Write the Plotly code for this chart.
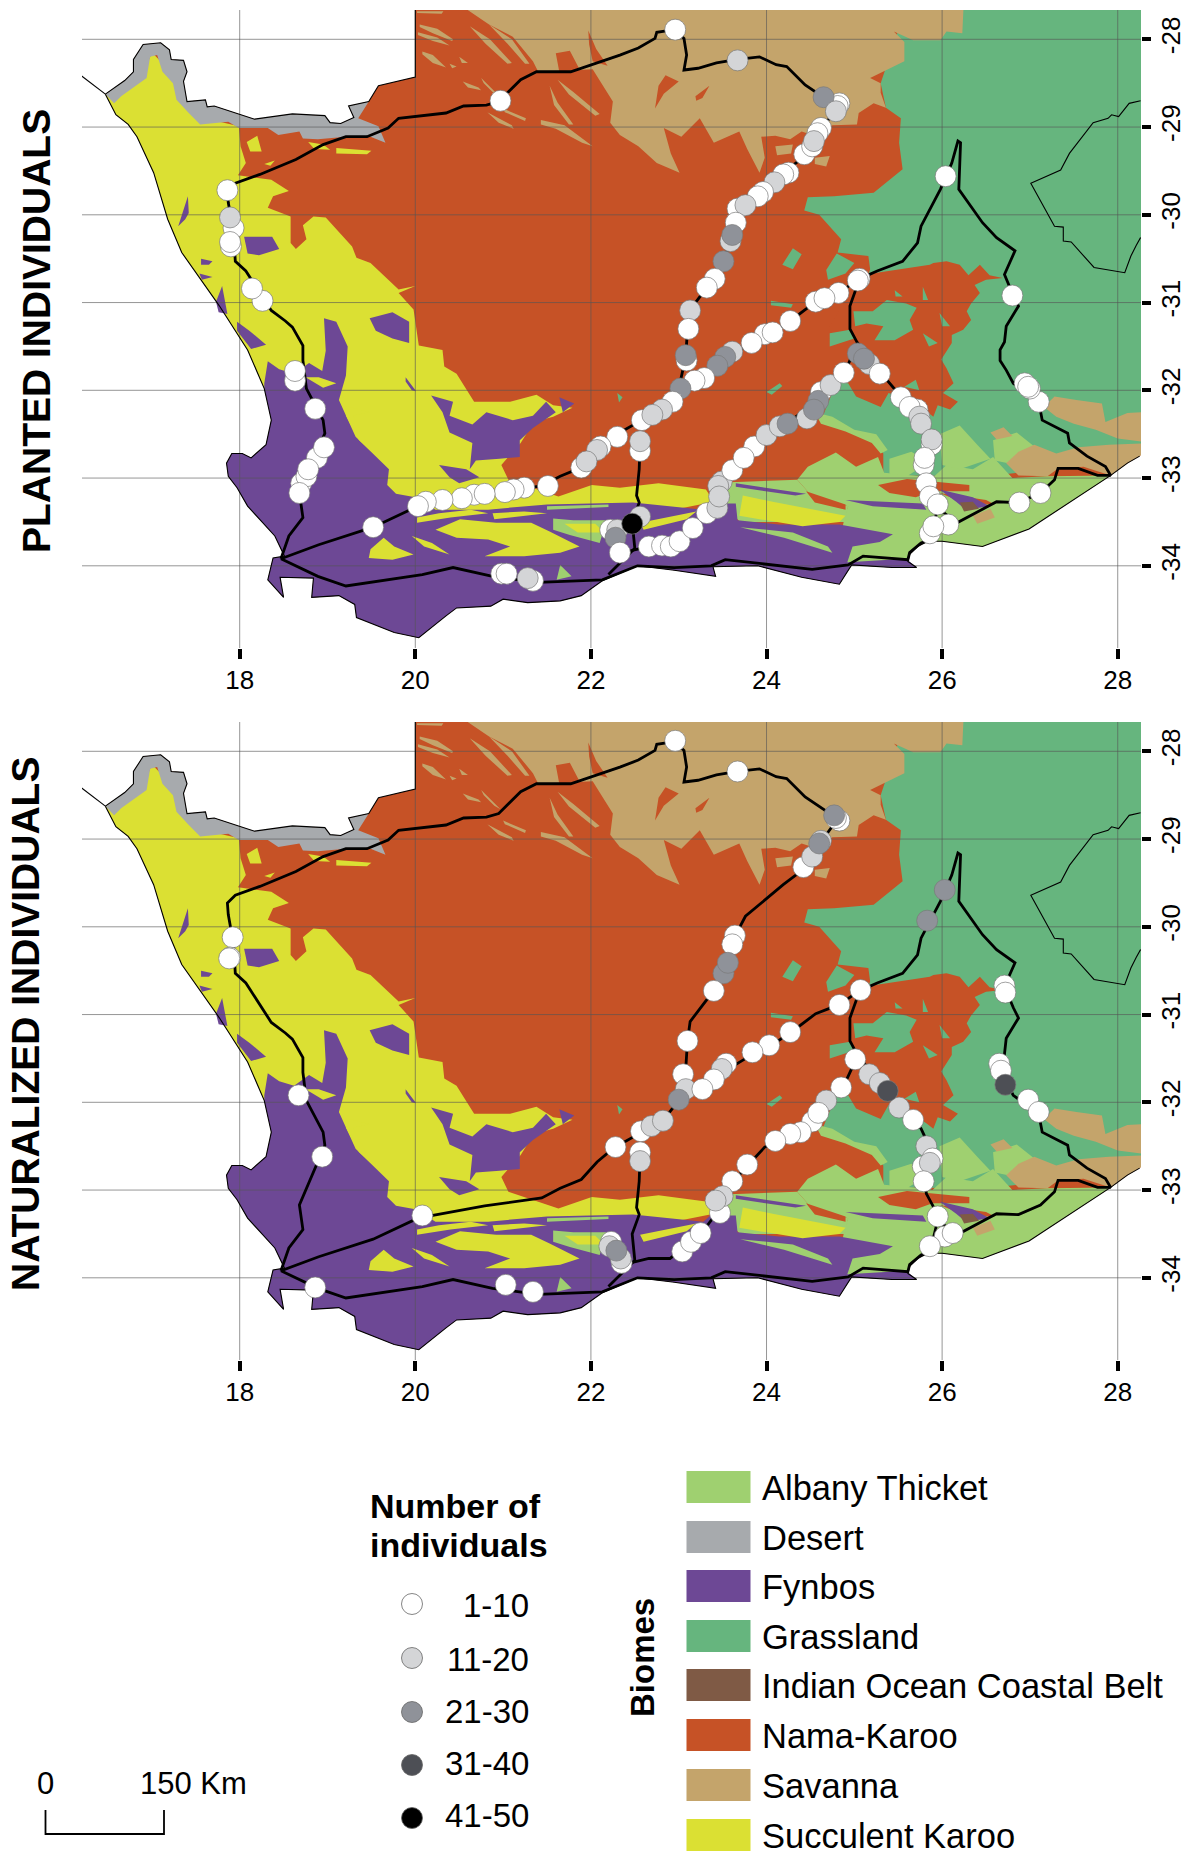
import plotly.graph_objects as go

W, H = 1188, 1854

# ---- colours
C_ALBANY, C_DESERT, C_FYNBOS, C_GRASS = "#9fd070", "#a7aaad", "#6d4895", "#66b57e"
C_IOCB, C_NAMA, C_SAVANNA, C_SUCC = "#7f5a45", "#c65226", "#c4a46b", "#dbe033"
CLASS_COLORS = {1: "#ffffff", 2: "#d4d5d7", 3: "#8f9299", 4: "#4d4f55", 5: "#000000"}

BIOME_LABELS = ["Albany Thicket", "Desert", "Fynbos", "Grassland",
                "Indian Ocean Coastal Belt", "Nama-Karoo", "Savanna", "Succulent Karoo"]
BIOME_COLORS = [C_ALBANY, C_DESERT, C_FYNBOS, C_GRASS, C_IOCB, C_NAMA, C_SAVANNA, C_SUCC]
CLASS_LABELS = ["1-10", "11-20", "21-30", "31-40", "41-50"]
LON_TICKS = [18, 20, 22, 24, 26, 28]
LAT_TICKS = [-28, -29, -30, -31, -32, -33, -34]

# ---- outlines (lon, lat)
NAMIBIA = [(16.19, -28.41), (16.47, -28.625)]
NORTH_BORDER = [(16.47, -28.625), (16.69, -28.47), (16.79, -28.37), (16.79, -28.23), (16.90, -28.06),
                (17.10, -28.04), (17.20, -28.12), (17.22, -28.23), (17.36, -28.24), (17.40, -28.37),
                (17.36, -28.48), (17.40, -28.71), (17.61, -28.69), (17.63, -28.77), (17.71, -28.76),
                (18.17, -28.91), (18.60, -28.85), (18.97, -28.87), (19.03, -28.95), (19.15, -28.96),
                (19.30, -28.89), (19.24, -28.76), (19.47, -28.71), (19.58, -28.53), (20.00, -28.43),
                (20.00, -27.5)]
COAST_SE = [(28.4, -32.63), (28.25, -32.75), (28.11, -32.83), (27.92, -32.97), (26.99, -33.58),
            (26.46, -33.78), (26.00, -33.72), (25.84, -33.72), (25.72, -33.78), (25.63, -33.87),
            (25.61, -33.95), (25.71, -34.02)]
COAST_S = [(25.43, -34.02), (24.97, -33.99), (24.83, -34.21), (24.40, -34.13), (23.90, -34.00),
           (23.39, -34.01), (23.42, -34.12), (22.95, -34.05), (22.53, -34.00), (22.13, -34.17),
           (21.89, -34.34), (21.65, -34.40), (21.28, -34.42), (21.00, -34.38), (20.86, -34.46),
           (20.47, -34.48), (20.35, -34.57), (20.04, -34.82), (19.76, -34.76), (19.33, -34.59),
           (19.31, -34.44), (19.13, -34.34), (18.82, -34.36), (18.84, -34.14), (18.46, -34.13),
           (18.50, -34.36), (18.32, -34.16), (18.38, -33.91), (18.51, -33.89), (18.40, -33.66),
           (18.09, -33.32), (17.97, -33.11), (17.87, -32.98), (17.85, -32.83), (17.91, -32.72),
           (18.03, -32.72), (18.13, -32.77), (18.30, -32.62), (18.36, -32.34), (18.28, -31.98)]
COAST_W = [(18.09, -31.54), (17.77, -31.04), (17.34, -30.43), (17.18, -30.05), (17.02, -29.52),
           (16.83, -29.11), (16.73, -28.97), (16.59, -28.86), (16.47, -28.625)]
LESOTHO_LINE = [(28.26, -28.70), (28.13, -28.73), (28.01, -28.88), (27.93, -28.86), (27.89, -28.90),
                (27.72, -28.95), (27.45, -29.30), (27.35, -29.49), (27.01, -29.64), (27.28, -30.13),
                (27.38, -30.14), (27.38, -30.30), (27.47, -30.31), (27.73, -30.60), (28.08, -30.66),
                (28.15, -30.47), (28.21, -30.35), (28.26, -30.26)]

# ---- biome patches (lon, lat)
GRASS_MAIN = [(26.25, -27.5), (28.4, -27.5), (28.4, -32.70), (27.69, -32.85), (26.5, -32.98), (25.33, -32.97),
              (25.33, -32.72), (25.21, -32.57), (24.62, -32.35), (24.80, -31.9), (24.95, -31.3), (25.18, -30.62),
              (25.16, -30.47), (24.81, -30.43), (24.85, -30.28), (24.60, -30.0), (24.43, -29.95), (24.47, -29.80),
              (24.77, -29.79), (25.22, -29.75), (25.55, -29.48), (25.51, -29.18), (25.53, -28.90), (25.36, -28.78),
              (25.3, -28.5), (25.5, -27.9)]
NAMA_EAST = [(25.20, -30.67), (25.48, -30.63), (25.63, -30.61), (25.86, -30.57), (25.90, -30.55), (26.05, -30.53),
             (26.20, -30.57), (26.30, -30.69), (26.43, -30.57), (26.54, -30.69), (26.69, -30.72), (26.50, -30.74),
             (26.37, -30.80), (26.43, -30.89), (26.33, -31.01), (26.28, -31.10), (26.33, -31.20), (26.24, -31.31),
             (26.11, -31.37), (26.11, -31.46), (25.99, -31.65), (26.05, -31.75), (26.13, -31.92), (26.01, -32.03),
             (26.18, -32.13), (26.09, -32.22), (25.95, -32.17), (25.90, -32.30), (25.82, -32.24), (25.63, -32.11),
             (25.39, -32.03), (25.30, -32.19), (25.02, -32.07), (24.93, -31.92), (24.70, -31.9), (24.7, -31.3),
             (24.95, -30.9)]
GRASS_SPECKS = [
    [(24.18, -30.57), (24.3, -30.38), (24.4, -30.45), (24.3, -30.62)],
    [(24.68, -30.63), (24.8, -30.44), (25.0, -30.55), (24.9, -30.67), (24.7, -30.74)],
    [(25.37, -30.97), (25.59, -31.01), (25.71, -31.06), (25.63, -31.20), (25.67, -31.31), (25.46, -31.43), (25.23, -31.43),
     (25.33, -31.27), (25.14, -31.24), (25.01, -31.27), (24.99, -31.10), (25.21, -31.10)],
    [(24.72, -31.35), (24.95, -31.31), (25.0, -31.41), (24.72, -31.50)],
    [(25.7, -31.88), (25.74, -32.0), (25.57, -31.96)],
    [(25.97, -31.12), (26.09, -31.27), (26.0, -31.27)],
    [(25.78, -31.35), (25.95, -31.46), (25.85, -31.5)],
    [(25.46, -30.86), (25.55, -30.93), (25.47, -30.93)],
    [(25.78, -30.82), (25.84, -30.97), (25.78, -30.97)],
    [(24.05, -30.98), (24.30, -31.02), (24.28, -31.06), (24.05, -31.03)],
    [(24.02, -31.30), (24.15, -31.28), (24.12, -31.38)],
    [(24.0, -32.02), (24.15, -31.92), (24.18, -31.95), (24.06, -32.05)],
    [(22.30, -32.03), (22.36, -32.08), (22.32, -32.14)],
]
SAVANNA_MAIN = [(20.35, -27.5), (26.25, -27.5), (26.23, -27.93), (26.05, -27.91), (25.98, -28.01), (25.67, -28.01),
                (25.45, -27.91), (25.57, -28.03), (25.57, -28.25), (25.18, -28.44), (25.30, -28.50), (25.30, -28.61),
                (25.36, -28.78), (25.22, -28.73), (25.05, -28.84), (25.03, -28.97), (24.75, -28.98), (24.55, -29.1),
                (24.40, -29.05), (24.27, -29.14), (24.1, -29.1), (23.94, -29.11), (23.98, -29.35), (23.92, -29.52),
                (23.78, -29.25), (23.69, -29.05), (23.40, -29.18), (23.24, -28.90), (23.03, -29.11), (22.83, -29.01),
                (22.91, -29.30), (23.01, -29.52), (22.75, -29.41), (22.54, -29.22), (22.33, -29.09), (22.22, -28.95),
                (22.25, -28.71), (22.02, -28.34), (21.40, -28.37), (21.34, -28.25), (21.11, -27.97), (20.84, -27.83)]
SAVANNA_STREAKS = [
    [(20.05, -27.83), (20.25, -27.88), (20.43, -28.0), (20.42, -28.02), (20.2, -27.93), (20.05, -27.86)],
    [(20.03, -27.92), (20.25, -27.98), (20.39, -28.07), (20.2, -28.02), (20.03, -27.95)],
    [(20.08, -28.14), (20.2, -28.18), (20.35, -28.32), (20.2, -28.27), (20.08, -28.17)],
    [(20.39, -28.28), (20.47, -28.31), (20.42, -28.33)],
    [(20.5, -28.2), (20.6, -28.27), (20.53, -28.27)],
    [(20.54, -28.48), (20.72, -28.55), (20.75, -28.58), (20.6, -28.55)],
    [(20.75, -28.44), (20.97, -28.66), (20.9, -28.62), (20.78, -28.5)],
    [(20.82, -28.83), (21.1, -28.98), (21.12, -29.02), (20.95, -28.95)],
    [(21.0, -28.79), (21.26, -28.9), (21.25, -28.93), (21.02, -28.83)],
    [(21.53, -28.53), (21.62, -28.72), (21.8, -28.97), (21.75, -28.97), (21.58, -28.75)],
    [(21.62, -28.46), (21.8, -28.6), (22.1, -28.85), (22.05, -28.87), (21.75, -28.63)],
    [(21.43, -28.92), (21.7, -28.98), (22.02, -29.22), (21.9, -29.18), (21.6, -29.02), (21.43, -28.97)],
    [(20.62, -27.85), (20.85, -28.0), (21.1, -28.27), (21.05, -28.28), (20.8, -28.05)],
    [(20.84, -27.83), (21.1, -28.0), (21.3, -28.28), (21.25, -28.28), (21.05, -28.05)],
    [(20.02, -27.68), (20.32, -27.68), (20.3, -27.71), (20.02, -27.70)],
    [(24.55, -29.35), (24.72, -29.33), (24.68, -29.45), (24.55, -29.42)],
    [(24.1, -29.22), (24.3, -29.2), (24.28, -29.3), (24.12, -29.32)],
]
NAMA_IN_SAVANNA = [
    [(21.97, -27.90), (22.06, -28.11), (22.19, -28.30), (22.02, -28.25), (21.98, -28.06)],
    [(21.60, -28.16), (21.76, -28.13), (21.87, -28.34), (21.64, -28.37)],
    [(22.85, -28.41), (23.0, -28.48), (22.83, -28.62), (22.73, -28.79), (22.77, -28.53)],
    [(23.19, -28.65), (23.35, -28.53), (23.27, -28.67), (23.2, -28.7)],
]
ALBANY_MAIN = [(24.35, -33.02), (24.47, -32.87), (24.79, -32.71), (25.02, -32.87), (25.27, -32.76), (25.34, -32.94),
               (25.67, -32.97), (25.89, -33.0), (26.05, -32.85), (26.35, -32.9), (26.58, -32.76), (26.8, -33.0),
               (27.2, -32.98), (27.92, -32.97), (26.99, -33.58), (26.46, -33.78), (26.00, -33.72), (25.84, -33.72),
               (25.72, -33.78), (25.63, -33.87), (25.61, -33.95), (25.71, -34.02), (25.43, -34.02), (24.97, -33.99),
               (24.83, -34.21), (24.80, -33.9), (24.89, -33.44), (24.93, -33.32), (24.52, -33.21)]
ALBANY_OTHER = [
    [(23.5, -33.05), (24.35, -33.02), (24.52, -33.21), (24.93, -33.32), (24.89, -33.5), (23.7, -33.5), (23.5, -33.3)],
    [(24.55, -32.25), (24.75, -32.3), (25.0, -32.45), (25.25, -32.5), (25.38, -32.68), (25.3, -32.72),
     (25.2, -32.6), (24.9, -32.47), (24.62, -32.38)],
    [(25.97, -32.5), (26.2, -32.4), (26.4, -32.62), (26.55, -32.78), (26.2, -32.9), (26.0, -32.85)],
    [(26.58, -32.57), (26.85, -32.48), (27.1, -32.68), (26.85, -32.85), (26.6, -32.8)],
    [(25.4, -32.78), (25.65, -32.7), (25.85, -32.82), (25.6, -32.98), (25.4, -32.95)],
]
NAMA_ON_ALBANY = [
    [(25.27, -33.08), (25.6, -33.01), (26.31, -33.08), (26.31, -33.15), (25.89, -33.15), (25.7, -33.22), (25.4, -33.17)],
    [(24.45, -33.15), (24.9, -33.3), (24.9, -33.36), (24.55, -33.28)],
    [(25.97, -33.17), (26.5, -33.25), (26.6, -33.3), (26.3, -33.3)],
]
SAVANNA_SE = [
    [(27.16, -32.19), (27.28, -32.07), (27.53, -32.11), (27.82, -32.15), (27.86, -32.36), (28.11, -32.26), (28.4, -32.24),
     (28.4, -32.6), (28.0, -32.55), (27.75, -32.45), (27.5, -32.38), (27.3, -32.3)],
    [(26.73, -32.83), (26.87, -32.70), (27.05, -32.62), (27.30, -32.72), (27.55, -32.65), (27.9, -32.62), (28.4, -32.6),
     (28.4, -32.63), (28.25, -32.75), (28.11, -32.83), (27.92, -32.97), (27.61, -32.87), (27.32, -32.89), (27.20, -32.98),
     (26.87, -32.97)],
    [(26.55, -32.48), (26.7, -32.42), (26.8, -32.52), (26.62, -32.56)],
    [(26.35, -33.43), (26.55, -33.35), (26.6, -33.45), (26.4, -33.52)],
]
SUCC_WEST = [(16.47, -28.625), (16.9, -28.4), (17.0, -28.15), (17.15, -28.3), (17.3, -28.5), (17.45, -28.8), (17.6, -28.9),
             (17.99, -28.99), (18.01, -29.22),
             (18.07, -29.41), (17.98, -29.55), (18.36, -29.60), (18.56, -29.73), (18.38, -29.79), (18.32, -29.92),
             (18.58, -30.02), (18.58, -30.32), (18.64, -30.39), (18.76, -30.28), (18.72, -30.12), (18.84, -30.02),
             (18.98, -30.03), (19.28, -30.36), (19.33, -30.49), (19.49, -30.55), (19.81, -30.85), (20.0, -30.81),
             (19.81, -30.89), (19.98, -31.08), (20.04, -31.49), (20.31, -31.54), (20.33, -31.73), (20.47, -31.81),
             (20.59, -32.0), (20.67, -32.13), (21.08, -32.13), (21.38, -32.05), (21.57, -32.17), (21.79, -32.2),
             (21.57, -32.30), (21.35, -32.36), (21.2, -32.6), (20.98, -32.85), (21.06, -33.02), (21.63, -33.21),
             (22.01, -33.08), (22.33, -33.11), (22.77, -33.06), (23.31, -33.13), (23.4, -33.27), (23.0, -33.35),
             (22.4, -33.4), (21.5, -33.4), (20.0, -33.45), (19.6, -33.2), (18.5, -32.0), (18.28, -31.98),
             (18.09, -31.54), (17.77, -31.04), (17.34, -30.43), (17.18, -30.05), (17.02, -29.52), (16.83, -29.11),
             (16.73, -28.97), (16.59, -28.86)]
YELLOW_IN_NAMA = [
    [(18.08, -29.17), (18.2, -29.1), (18.25, -29.28), (18.12, -29.28)],
    [(18.78, -29.17), (18.95, -29.2), (19.03, -29.26), (18.85, -29.25)],
    [(19.1, -29.24), (19.5, -29.27), (19.45, -29.31), (19.1, -29.3)],
    [(18.28, -29.42), (18.4, -29.38), (18.35, -29.44)],
]
DESERT_RING = NORTH_BORDER[:23] + [(19.35, -28.90), (19.58, -28.99), (19.66, -29.18), (19.49, -29.11), (19.21, -29.11),
                                   (18.89, -29.14), (18.72, -29.13), (18.68, -29.05), (18.44, -29.09), (18.32, -29.01),
                                   (17.99, -29.01), (17.87, -28.94), (17.55, -28.97), (17.42, -28.84), (17.28, -28.69),
                                   (17.24, -28.50), (17.12, -28.37), (17.06, -28.18), (16.98, -28.20), (16.94, -28.44),
                                   (16.77, -28.56), (16.65, -28.65), (16.57, -28.73)]
FYNBOS_NORTH = [(18.28, -31.92), (18.32, -31.67), (18.45, -31.76), (18.62, -31.81), (18.79, -31.69), (18.94, -31.78),
                (18.98, -31.55), (18.96, -31.18), (19.10, -31.22), (19.23, -31.50), (19.21, -31.83), (19.13, -32.11),
                (19.32, -32.53), (19.51, -32.71), (19.70, -32.90), (19.68, -33.08), (19.78, -33.18), (20.0, -33.22),
                (20.23, -33.36), (20.83, -33.36), (21.5, -33.30), (22.48, -33.28), (23.28, -33.36), (23.36, -33.29),
                (23.65, -33.29), (23.67, -33.48), (24.14, -33.53), (24.83, -33.53), (25.44, -33.64), (25.29, -33.73),
                (24.98, -33.78), (24.92, -33.96), (25.59, -33.92), (25.71, -34.02)]
FYNBOS_SPECKS = [
    [(17.30, -30.13), (17.41, -29.79), (17.42, -29.98), (17.38, -30.05)],
    [(18.05, -30.25), (18.37, -30.25), (18.45, -30.39), (18.22, -30.46), (18.09, -30.44)],
    [(17.56, -30.50), (17.69, -30.53), (17.65, -30.57), (17.56, -30.57)],
    [(17.54, -30.67), (17.69, -30.71), (17.57, -30.74)],
    [(17.80, -30.81), (17.73, -30.99), (17.76, -31.11), (17.86, -31.13)],
    [(17.97, -31.22), (18.11, -31.32), (18.30, -31.48), (18.13, -31.53), (17.97, -31.32)],
    [(19.48, -31.18), (19.74, -31.11), (19.93, -31.22), (19.93, -31.46), (19.74, -31.41), (19.55, -31.32)],
    [(19.89, -31.85), (20.01, -32.01), (19.96, -32.0), (19.89, -31.9)],
    [(20.18, -32.06), (20.43, -32.13), (20.39, -32.29), (20.65, -32.39), (20.81, -32.25), (21.11, -32.34), (21.34, -32.29),
     (21.49, -32.13), (21.60, -32.25), (21.34, -32.43), (21.19, -32.57), (21.19, -32.76), (20.96, -32.78), (20.69, -32.80),
     (20.62, -32.90), (20.65, -32.60), (20.39, -32.48), (20.31, -32.25)],
    [(20.27, -32.85), (20.58, -32.90), (20.73, -32.99), (20.50, -33.06), (20.39, -32.99)],
    [(21.64, -32.08), (21.81, -32.15), (21.68, -32.25)],
    [(23.65, -33.06), (24.45, -33.18), (24.33, -33.20), (23.65, -33.10)],
    [(24.90, -33.25), (25.78, -33.29), (25.82, -33.36), (25.21, -33.32)],
    [(25.97, -33.13), (26.35, -33.22), (26.54, -33.32), (26.27, -33.36), (26.16, -33.27)],
]
YELLOW_PATCHES = [
    [(20.23, -33.59), (20.51, -33.47), (20.92, -33.51), (21.32, -33.51), (21.53, -33.61), (21.87, -33.78), (21.65, -33.85),
     (21.24, -33.89), (20.79, -33.89), (21.08, -33.78), (20.83, -33.70), (20.47, -33.68)],
    [(20.02, -33.45), (20.27, -33.40), (20.63, -33.36), (20.83, -33.40), (20.4, -33.45), (20.02, -33.51)],
    [(20.88, -33.40), (21.24, -33.38), (21.5, -33.40), (20.9, -33.47)],
    [(19.49, -33.81), (19.64, -33.68), (19.76, -33.78), (19.98, -33.87), (19.74, -33.93), (19.47, -33.91)],
    [(19.96, -33.66), (20.19, -33.74), (20.39, -33.87), (20.10, -33.78)],
    [(18.75, -31.85), (18.9, -31.85), (19.1, -31.92), (18.95, -31.97)],
    [(19.21, -32.18), (19.48, -32.25), (19.29, -32.29), (19.51, -32.71), (19.36, -32.57), (19.21, -32.29)],
    [(23.73, -33.2), (24.07, -33.27), (24.9, -33.43), (24.83, -33.5), (24.41, -33.55), (23.69, -33.43)],
    [(22.56, -33.51), (23.2, -33.38), (23.09, -33.47), (22.60, -33.59)],
]
ALBANY_CENTER = [
    [(21.57, -33.46), (21.80, -33.48), (22.18, -33.48), (22.10, -33.74), (21.76, -33.65), (21.57, -33.59)],
    [(21.65, -33.99), (21.78, -34.12), (21.61, -34.16)],
    [(23.7, -33.56), (24.3, -33.62), (24.7, -33.78), (24.75, -33.85), (24.2, -33.68)],
    [(21.5, -33.32), (22.2, -33.30), (22.2, -33.33), (21.5, -33.36)],
]
YELLOW_CENTER = [[(21.70, -33.52), (22.05, -33.52), (22.15, -33.62), (21.85, -33.62)]]
IOCB_PATCHES = [[(26.2, -33.28), (26.35, -33.27), (26.42, -33.35), (26.25, -33.38)]]

# ---- roads (lon, lat)
ROAD_WEST_NORTH = [(18.47, -33.92), (18.56, -33.66), (18.72, -33.45), (18.68, -33.17), (18.97, -32.49), (18.95, -32.34),
                   (18.76, -31.98), (18.72, -31.66), (18.72, -31.49), (18.60, -31.28), (18.52, -31.21), (18.36, -31.09),
                   (18.07, -30.64), (17.95, -30.53), (17.93, -30.2), (17.87, -29.86), (17.86, -29.73), (17.95, -29.64),
                   (18.23, -29.54), (18.64, -29.37), (18.95, -29.2), (19.21, -29.11), (19.45, -29.11), (19.69, -29.01),
                   (19.81, -28.90), (20.35, -28.84), (20.55, -28.76), (20.81, -28.75), (20.95, -28.71), (21.2, -28.46),
                   (21.38, -28.37), (21.77, -28.37), (22.33, -28.18), (22.54, -28.10), (22.73, -27.99), (22.75, -27.92),
                   (22.95, -27.89), (23.06, -27.99), (23.09, -28.18), (23.06, -28.35), (23.22, -28.33), (23.43, -28.27),
                   (23.67, -28.23), (23.92, -28.20), (24.11, -28.29), (24.23, -28.31), (24.44, -28.52), (24.64, -28.65),
                   (24.81, -28.77), (24.68, -28.95), (24.56, -29.14), (24.44, -29.33), (24.19, -29.52), (23.94, -29.73),
                   (23.76, -29.88), (23.65, -30.09), (23.61, -30.24), (23.51, -30.53), (23.32, -30.83), (23.13, -31.08),
                   (23.10, -31.30), (23.08, -31.62), (23.0, -31.98)]
ROAD_DIAGONAL = [(25.06, -30.73), (24.82, -30.89), (24.56, -30.99), (24.27, -31.21), (24.07, -31.34), (23.83, -31.46),
                 (23.45, -31.69), (23.18, -31.88), (23.0, -31.98), (22.81, -32.22), (22.58, -32.34), (22.26, -32.52),
                 (22.07, -32.68), (21.89, -32.88), (21.65, -32.98), (21.44, -33.09), (20.79, -33.18), (20.03, -33.32),
                 (19.52, -33.56), (18.9, -33.76), (18.47, -33.92)]
ROAD_PRINCE = [(22.56, -32.6), (22.55, -32.9), (22.52, -33.2), (22.55, -33.28), (22.47, -33.5), (22.5, -33.8), (22.2, -34.1)]
ROAD_SOUTH = [(25.06, -30.73), (24.95, -31.04), (24.95, -31.3), (25.03, -31.45), (25.31, -31.81), (25.53, -32.07),
              (25.76, -32.30), (25.88, -32.56), (25.80, -32.79), (25.82, -33.04), (25.96, -33.30), (25.90, -33.55),
              (25.84, -33.71), (25.76, -33.74), (25.63, -33.85), (25.61, -33.93), (25.10, -33.89), (24.93, -33.99),
              (24.52, -34.04), (23.90, -33.97), (23.53, -33.93), (23.37, -34.0), (22.95, -34.02), (22.53, -34.0),
              (22.13, -34.16), (21.40, -34.19), (20.88, -34.12), (20.43, -34.02), (20.08, -34.10), (19.21, -34.23),
              (18.89, -34.12), (18.47, -33.92)]
ROAD_GARDEN = [(25.0, -31.55), (24.89, -31.79), (24.73, -31.95), (24.59, -32.11), (24.23, -32.38), (23.98, -32.51),
               (23.73, -32.78), (23.61, -32.92), (23.45, -33.11), (23.45, -33.24), (23.32, -33.41), (23.15, -33.58),
               (22.90, -33.78), (22.66, -33.78), (22.37, -33.85)]
ROAD_EAST = [(25.96, -33.35), (26.17, -33.51), (26.62, -33.27), (26.87, -33.28), (27.12, -33.17), (27.28, -33.02),
             (27.32, -32.89), (27.55, -32.89), (27.77, -32.97), (27.92, -32.97), (27.86, -32.87), (27.65, -32.75),
             (27.45, -32.60), (27.43, -32.49), (27.14, -32.34), (27.10, -32.13), (26.81, -31.92), (26.73, -31.77),
             (26.66, -31.66), (26.66, -31.54), (26.71, -31.45), (26.73, -31.27), (26.87, -31.04), (26.81, -30.92),
             (26.71, -30.68), (26.83, -30.41), (26.62, -30.26), (26.46, -30.09), (26.19, -29.71), (26.21, -29.18),
             (26.18, -29.16), (26.11, -29.41), (25.98, -29.71), (25.76, -30.13), (25.72, -30.32), (25.55, -30.53),
             (25.26, -30.64), (25.06, -30.73)]
ROADS = [ROAD_WEST_NORTH, ROAD_DIAGONAL, ROAD_PRINCE, ROAD_SOUTH, ROAD_GARDEN, ROAD_EAST]

# ---- sampled sites (lon, lat, class)
PLANTED = [
    (20.97, -28.70, 1), (17.86, -29.72, 1), (17.93, -30.15, 1), (17.89, -30.03, 2), (17.90, -30.36, 1), (17.89, -30.31, 1),
    (18.26, -30.98, 1), (18.14, -30.84, 1), (22.96, -27.89, 1), (23.67, -28.24, 2), (24.83, -28.73, 1), (24.81, -28.76, 1),
    (24.65, -28.66, 3), (24.79, -28.82, 2), (24.62, -29.01, 1), (24.58, -29.07, 1), (24.43, -29.31, 1), (24.52, -29.22, 1),
    (24.54, -29.16, 2), (24.25, -29.52, 1), (24.19, -29.54, 1), (24.09, -29.63, 2), (23.96, -29.74, 1), (23.90, -29.79, 1),
    (23.67, -29.93, 1), (23.76, -29.89, 2), (23.65, -30.09, 1), (23.59, -30.30, 2), (23.61, -30.23, 3), (23.51, -30.53, 3),
    (23.41, -30.73, 1), (23.32, -30.83, 1), (23.13, -31.09, 2), (23.11, -31.30, 1), (23.09, -31.66, 1), (23.08, -31.60, 3),
    (25.06, -30.73, 1), (25.04, -30.75, 1), (24.82, -30.89, 1), (24.56, -30.99, 1), (24.66, -30.95, 1), (24.27, -31.21, 1),
    (23.98, -31.36, 1), (24.07, -31.34, 1), (23.83, -31.46, 1), (23.61, -31.56, 2), (23.53, -31.62, 3), (23.44, -31.72, 3),
    (23.29, -31.86, 1), (23.18, -31.89, 1), (23.02, -31.98, 3), (22.93, -32.13, 1), (22.81, -32.22, 2), (22.58, -32.34, 1),
    (22.70, -32.28, 2), (22.30, -32.53, 1), (22.56, -32.69, 1), (22.56, -32.58, 2), (22.11, -32.64, 1), (22.07, -32.68, 2),
    (21.89, -32.88, 1), (21.95, -32.81, 2), (21.51, -33.09, 1), (21.24, -33.11, 1), (21.12, -33.13, 1), (21.02, -33.16, 1),
    (20.67, -33.19, 1), (20.79, -33.18, 1), (20.53, -33.23, 1), (20.31, -33.25, 1), (20.12, -33.27, 1), (20.03, -33.32, 1),
    (19.52, -33.56, 1), (18.63, -31.89, 1), (18.63, -31.78, 1), (18.86, -32.21, 1), (18.88, -32.77, 1), (18.96, -32.65, 1),
    (18.70, -33.06, 1), (18.76, -32.98, 1), (18.78, -32.90, 1), (18.68, -33.17, 1), (20.98, -34.09, 1), (21.04, -34.09, 1),
    (21.34, -34.17, 1), (21.28, -34.14, 2), (22.22, -33.59, 1), (22.30, -33.59, 2), (22.28, -33.68, 3), (22.33, -33.85, 1),
    (22.56, -33.44, 2), (22.47, -33.52, 5), (22.66, -33.78, 1), (22.81, -33.77, 1), (22.91, -33.78, 1), (23.01, -33.72, 1),
    (23.16, -33.57, 1), (23.32, -33.40, 1), (23.44, -33.34, 2), (23.49, -33.04, 2), (23.45, -33.09, 2), (23.46, -33.21, 2),
    (23.61, -32.91, 1), (23.86, -32.64, 1), (23.74, -32.77, 1), (24.0, -32.51, 2), (24.15, -32.41, 2), (24.46, -32.32, 2),
    (24.24, -32.38, 3), (24.62, -32.02, 1), (24.59, -32.12, 3), (24.54, -32.22, 3), (24.73, -31.94, 2), (24.88, -31.80, 1),
    (25.04, -31.58, 3), (25.17, -31.70, 2), (25.11, -31.64, 3), (25.29, -31.81, 1), (25.53, -32.08, 1), (25.72, -32.22, 1),
    (25.63, -32.19, 1), (25.74, -32.30, 2), (25.76, -32.38, 2), (25.88, -32.62, 1), (25.88, -32.56, 2), (25.79, -32.85, 1),
    (25.80, -32.77, 1), (25.82, -33.06, 1), (25.86, -33.21, 1), (25.95, -33.30, 1), (26.07, -33.53, 1), (25.86, -33.63, 1),
    (25.90, -33.55, 1), (26.88, -33.28, 1), (27.12, -33.17, 1), (27.10, -32.13, 1), (26.94, -31.92, 1), (27.0, -31.98, 1),
    (26.98, -31.96, 1), (26.80, -30.92, 1), (26.04, -29.56, 1),
]
NATURALIZED = [
    (17.92, -30.12, 1), (17.89, -30.35, 1), (17.88, -30.36, 1), (18.67, -31.92, 1), (18.94, -32.62, 1), (20.08, -33.29, 1),
    (18.86, -34.11, 1), (21.03, -34.08, 1), (21.34, -34.16, 1), (22.96, -27.88, 1), (23.67, -28.23, 1), (22.28, -32.51, 1),
    (22.57, -32.33, 1), (22.69, -32.27, 2), (22.82, -32.21, 2), (22.56, -32.57, 1), (22.56, -32.67, 2), (22.23, -33.59, 1),
    (22.35, -33.83, 1), (22.34, -33.78, 2), (22.21, -33.64, 2), (22.29, -33.69, 3), (24.83, -28.79, 1), (24.79, -28.76, 1),
    (24.77, -28.73, 3), (24.62, -29.02, 2), (24.42, -29.32, 1), (24.52, -29.20, 2), (24.60, -29.05, 3), (26.03, -29.58, 3),
    (25.83, -29.93, 3), (23.64, -30.10, 1), (23.61, -30.20, 1), (23.51, -30.53, 3), (23.56, -30.41, 3), (23.40, -30.73, 1),
    (23.10, -31.30, 1), (23.05, -31.68, 1), (23.08, -31.85, 2), (23.00, -31.97, 3), (25.07, -30.72, 1), (24.83, -30.89, 1),
    (24.27, -31.20, 1), (24.03, -31.35, 1), (23.84, -31.43, 1), (23.54, -31.56, 1), (23.49, -31.62, 2), (23.40, -31.74, 1),
    (23.27, -31.85, 1), (25.01, -31.51, 1), (25.17, -31.68, 2), (25.29, -31.78, 2), (25.51, -32.06, 2), (25.38, -31.87, 4),
    (25.67, -32.20, 1), (24.85, -31.83, 1), (24.68, -31.98, 2), (24.52, -32.22, 1), (24.59, -32.12, 1), (24.39, -32.34, 1),
    (24.27, -32.36, 1), (24.10, -32.44, 1), (23.78, -32.71, 1), (23.61, -32.90, 1), (23.47, -33.26, 1), (23.50, -33.07, 2),
    (23.42, -33.12, 2), (23.04, -33.70, 1), (23.14, -33.59, 1), (23.25, -33.49, 1), (25.82, -32.50, 2), (25.89, -32.64, 1),
    (25.78, -32.73, 1), (25.86, -32.69, 2), (25.79, -32.90, 1), (25.95, -33.30, 1), (26.03, -33.53, 1), (26.12, -33.49, 1),
    (25.86, -33.64, 1), (26.71, -30.67, 1), (26.72, -30.75, 1), (26.65, -31.56, 1), (26.67, -31.64, 1), (26.72, -31.80, 4),
    (26.98, -31.97, 1), (27.10, -32.11, 1),
]

# ---- frame geometry (page pixels)
AX_LEFT, AX_RIGHT = 82, 1141
PANELS = [(10, 648), (722, 1360)]
LON_RANGE = (16.204, 28.265)
LAT_SPAN = 87.75
LAT_TOP = -28 + 29.3 / LAT_SPAN
LAT_BOTTOM = -28 - (648 - 39.3) / LAT_SPAN


def rings(*groups):
    xs, ys = [], []
    for ring in groups:
        for lon, lat in ring:
            xs.append(lon); ys.append(lat)
        xs.append(None); ys.append(None)
    return xs, ys


def fill(fig, idx, color, groups):
    xs, ys = rings(*groups)
    fig.add_trace(go.Scatter(x=xs, y=ys, mode="lines", fill="toself", fillcolor=color,
                             line=dict(width=0, color=color), hoverinfo="skip", showlegend=False,
                             xaxis=f"x{idx}", yaxis=f"y{idx}"))


def lines(fig, idx, color, width, groups):
    xs, ys = rings(*groups)
    fig.add_trace(go.Scatter(x=xs, y=ys, mode="lines", line=dict(width=width, color=color),
                             hoverinfo="skip", showlegend=False, xaxis=f"x{idx}", yaxis=f"y{idx}"))


fig = go.Figure()
LAND = NORTH_BORDER + [(28.4, -27.5)] + COAST_SE + COAST_S + COAST_W
FYNBOS_MAIN = FYNBOS_NORTH + COAST_S
GRID_V = [[(t, LAT_TOP), (t, LAT_BOTTOM)] for t in LON_TICKS]
GRID_H = [[(LON_RANGE[0], t), (LON_RANGE[1], t)] for t in LAT_TICKS]

for idx, (panel, sites) in enumerate(zip(PANELS, [PLANTED, NATURALIZED]), start=1):
    fill(fig, idx, C_NAMA, [LAND])
    fill(fig, idx, C_GRASS, [GRASS_MAIN])
    fill(fig, idx, C_NAMA, [NAMA_EAST])
    fill(fig, idx, C_GRASS, GRASS_SPECKS)
    fill(fig, idx, C_SAVANNA, [SAVANNA_MAIN])
    fill(fig, idx, C_SAVANNA, SAVANNA_STREAKS)
    fill(fig, idx, C_NAMA, NAMA_IN_SAVANNA)
    fill(fig, idx, C_ALBANY, [ALBANY_MAIN])
    fill(fig, idx, C_ALBANY, ALBANY_OTHER)
    fill(fig, idx, C_NAMA, NAMA_ON_ALBANY)
    fill(fig, idx, C_SAVANNA, SAVANNA_SE)
    fill(fig, idx, C_SUCC, [SUCC_WEST])
    fill(fig, idx, C_SUCC, YELLOW_IN_NAMA)
    fill(fig, idx, C_DESERT, [DESERT_RING])
    fill(fig, idx, C_FYNBOS, [FYNBOS_MAIN])
    fill(fig, idx, C_FYNBOS, FYNBOS_SPECKS)
    fill(fig, idx, C_SUCC, YELLOW_PATCHES)
    fill(fig, idx, C_ALBANY, ALBANY_CENTER)
    fill(fig, idx, C_SUCC, YELLOW_CENTER)
    fill(fig, idx, C_IOCB, IOCB_PATCHES)
    lines(fig, idx, "rgba(85,85,85,0.62)", 1, GRID_V + GRID_H)
    lines(fig, idx, "#000000", 1.1, [NAMIBIA, NORTH_BORDER, COAST_SE[1:] + COAST_S + COAST_W, LESOTHO_LINE])
    lines(fig, idx, "#000000", 2.8, ROADS)
    fig.add_trace(go.Scatter(
        x=[s[0] for s in sites], y=[s[1] for s in sites], mode="markers",
        marker=dict(size=21, color=[CLASS_COLORS[s[2]] for s in sites], line=dict(width=0.7, color="#7a7a7a")),
        hoverinfo="skip", showlegend=False, xaxis=f"x{idx}", yaxis=f"y{idx}"))

FONT = "Liberation Sans, Arial, sans-serif"
tick_font = dict(family=FONT, size=26, color="#000")
layout = dict(width=W, height=H, margin=dict(l=0, r=0, t=0, b=0), paper_bgcolor="white", plot_bgcolor="white",
              showlegend=False, font=tick_font)
for idx, (top, bottom) in enumerate(PANELS, start=1):
    sfx = "" if idx == 1 else str(idx)
    layout["xaxis" + sfx] = dict(domain=[AX_LEFT / W, AX_RIGHT / W], range=list(LON_RANGE), anchor=f"y{sfx}",
                                 tickmode="array", tickvals=LON_TICKS, ticktext=[str(t) for t in LON_TICKS],
                                 ticks="outside", ticklen=10, tickwidth=3.5, tickcolor="#000", showgrid=False,
                                 showline=False, zeroline=False, tickfont=tick_font, ticklabelstandoff=-1)
    layout["yaxis" + sfx] = dict(domain=[1 - bottom / H, 1 - top / H], range=[LAT_BOTTOM, LAT_TOP], anchor=f"x{sfx}",
                                 side="right", tickmode="array", tickvals=LAT_TICKS, ticktext=[str(t) for t in LAT_TICKS],
                                 ticks="outside", ticklen=9, tickwidth=3.5, tickcolor="#000", tickangle=-90,
                                 showgrid=False, showline=False, zeroline=False, tickfont=tick_font, ticklabelstandoff=-2)
fig.update_layout(**layout)


def text(x, y, s, size=33, bold=False, anchor="left", angle=0):
    fig.add_annotation(xref="paper", yref="paper", x=x / W, y=1 - y / H, text=f"<b>{s}</b>" if bold else s,
                       showarrow=False, xanchor=anchor, yanchor="middle", textangle=angle,
                       font=dict(family=FONT, size=size, color="#000"))


def rect(x0, y0, x1, y1, color):
    fig.add_shape(type="rect", xref="paper", yref="paper", x0=x0 / W, x1=x1 / W, y0=1 - y0 / H, y1=1 - y1 / H,
                  fillcolor=color, line=dict(width=0))


# panel titles
text(36, 331, "PLANTED INDIVIDUALS", size=39, bold=True, anchor="center", angle=-90)
text(26, 1024, "NATURALIZED INDIVIDUALS", size=39, bold=True, anchor="center", angle=-90)

# biome key
SWATCH_TOPS = [1471, 1521, 1570, 1620, 1669, 1719, 1769, 1819]
for top, label, color in zip(SWATCH_TOPS, BIOME_LABELS, BIOME_COLORS):
    rect(686.5, top, 750.5, top + 32, color)
    text(759.5, top + 17, label, size=34.5)
text(642, 1658, "Biomes", size=33, bold=True, anchor="center", angle=-90)

# size key
text(367.5, 1506, "Number of", size=34, bold=True)
text(367.5, 1545, "individuals", size=34, bold=True)
CIRCLE_Y = [1604, 1658, 1712, 1765, 1818]
LABEL_Y = [1605, 1659, 1711, 1763, 1815]
for cy, ly, label, cls in zip(CIRCLE_Y, LABEL_Y, CLASS_LABELS, [1, 2, 3, 4, 5]):
    fig.add_shape(type="circle", xref="paper", yref="paper", x0=401.5 / W, x1=422.5 / W, y0=1 - (cy - 10.5) / H, y1=1 - (cy + 10.5) / H,
                  fillcolor=CLASS_COLORS[cls], line=dict(width=0.8, color="#666"))
    text(531, ly, label, size=33, anchor="right")

# scale bar
text(45, 1783, "0", size=31, anchor="center")
text(193, 1783, "150 Km", size=31, anchor="center")
fig.add_shape(type="path", xref="paper", yref="paper",
              path=f"M {45.5 / W} {1 - 1810 / H} L {45.5 / W} {1 - 1834 / H} L {164 / W} {1 - 1834 / H} L {164 / W} {1 - 1810 / H}",
              line=dict(width=1.8, color="#000"))

fig.write_html("out.html", config={"displayModeBar": False}, post_script="document.body.style.margin='0';")
